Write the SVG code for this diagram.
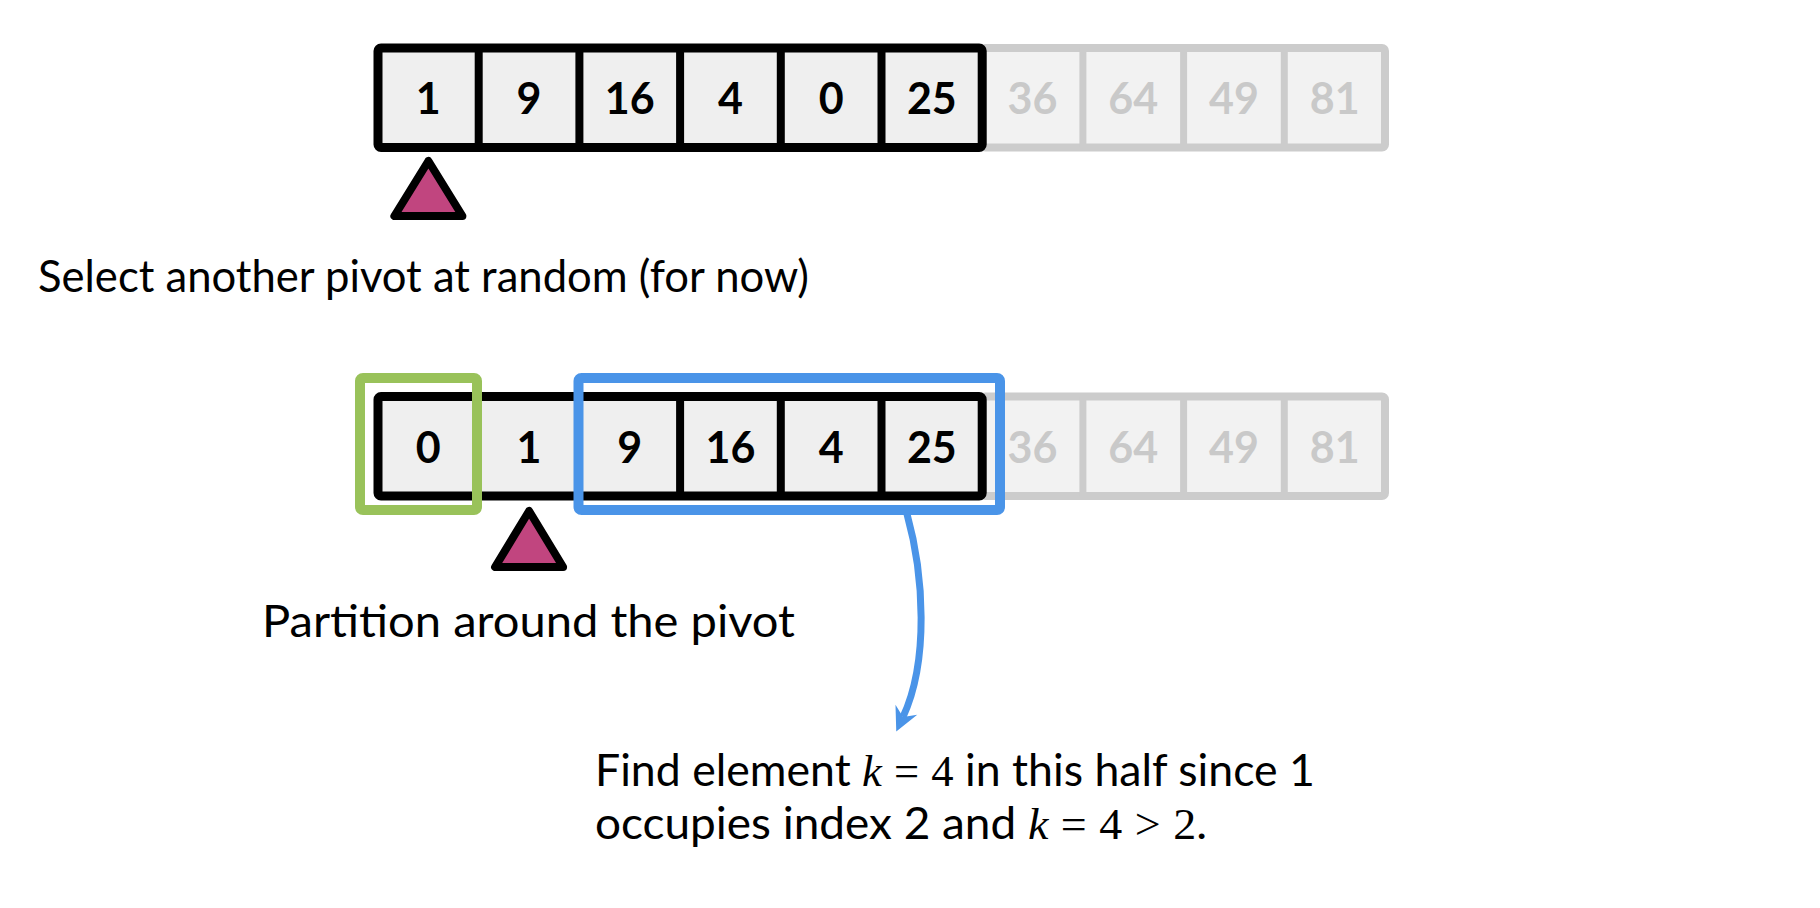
<svg xmlns="http://www.w3.org/2000/svg" width="1820" height="908" viewBox="0 0 1820 908">
  <style>
    .cell { fill: #efefef; }
    .gcell { fill: #f2f2f2; }
    .num { font-family: Lato, "Open Sans", sans-serif; font-weight: bold; font-size: 43px; fill: #000; text-anchor: middle; }
    .gnum { font-family: Lato, "Open Sans", sans-serif; font-weight: bold; font-size: 43px; fill: #c9c9c9; text-anchor: middle; }
    .frame { fill: none; stroke: #000; stroke-width: 9; stroke-linejoin: round; }
    .div { stroke: #000; stroke-width: 8; }
    .gframe { fill: none; stroke: #cccccc; stroke-width: 8; stroke-linejoin: round; }
    .gdiv { stroke: #cccccc; stroke-width: 7; }
    .pivot { fill: #c1457f; stroke: #000; stroke-width: 8; stroke-linejoin: round; }
    .label { font-family: Lato, "Open Sans", sans-serif; font-size: 44px; fill: #000; }
    .math { font-family: "Liberation Serif", "DejaVu Serif", serif; font-size: 44px; }
    .mi { font-family: "Liberation Serif", "DejaVu Serif", serif; font-style: italic; font-size: 44px; }
    .green { fill: none; stroke: #99c25a; stroke-width: 10; stroke-linejoin: round; }
    .blue { fill: none; stroke: #4a94e8; stroke-width: 10; stroke-linejoin: round; }
    .conn { fill: none; stroke: #4a94e8; stroke-width: 7; }
  </style>
  <defs>
    <marker id="arrowhead" markerUnits="userSpaceOnUse" viewBox="-26 -14 30 28" refX="-16" refY="0" markerWidth="30" markerHeight="28" orient="auto">
      <path d="M0,0 L-24,-12 L-16,0 L-24,12 Z" fill="#4a94e8"/>
    </marker>
  </defs>
  <rect width="1820" height="908" fill="#ffffff"/>

  <!-- Top array -->
  <g id="top-array">
    <g id="top-grey">
      <rect class="gcell" x="982.2" y="48" width="402.8" height="99.5"/>
      <rect class="gframe" x="982.2" y="48" width="402.8" height="99.5" rx="3"/>
      <line class="gdiv" x1="1082.9" y1="48" x2="1082.9" y2="147.5"/>
      <line class="gdiv" x1="1183.6" y1="48" x2="1183.6" y2="147.5"/>
      <line class="gdiv" x1="1284.3" y1="48" x2="1284.3" y2="147.5"/>
      <g id="top-cell-36"><text class="gnum" x="1032.55" y="114">36</text></g>
      <g id="top-cell-64"><text class="gnum" x="1133.25" y="114">64</text></g>
      <g id="top-cell-49"><text class="gnum" x="1233.95" y="114">49</text></g>
      <g id="top-cell-81"><text class="gnum" x="1334.65" y="114">81</text></g>
    </g>
    <rect class="cell" x="378" y="48" width="604.2" height="99.5"/>
    <g id="top-cell-1"><text class="num" x="428.35" y="114">1</text></g>
    <g id="top-cell-9"><text class="num" x="529.05" y="114">9</text></g>
    <g id="top-cell-16"><text class="num" x="629.75" y="114">16</text></g>
    <g id="top-cell-4"><text class="num" x="730.45" y="114">4</text></g>
    <g id="top-cell-0"><text class="num" x="831.15" y="114">0</text></g>
    <g id="top-cell-25"><text class="num" x="931.85" y="114">25</text></g>
    <line class="div" x1="478.7" y1="48" x2="478.7" y2="147.5"/>
    <line class="div" x1="579.4" y1="48" x2="579.4" y2="147.5"/>
    <line class="div" x1="680.1" y1="48" x2="680.1" y2="147.5"/>
    <line class="div" x1="780.8" y1="48" x2="780.8" y2="147.5"/>
    <line class="div" x1="881.5" y1="48" x2="881.5" y2="147.5"/>
    <rect class="frame" x="378" y="48" width="604.2" height="99.5" rx="3"/>
  </g>

  <g id="top-pivot">
    <polygon class="pivot" points="428.4,161 394.4,216 462.4,216"/>
  </g>

  <g id="label-select">
    <text class="label" x="38" y="292" textLength="771" lengthAdjust="spacingAndGlyphs">Select another pivot at random (for now)</text>
  </g>

  <!-- Bottom array -->
  <g id="bottom-array">
    <g id="bottom-grey">
      <rect class="gcell" x="982.2" y="396.5" width="402.8" height="99.5"/>
      <rect class="gframe" x="982.2" y="396.5" width="402.8" height="99.5" rx="3"/>
      <line class="gdiv" x1="1082.9" y1="396.5" x2="1082.9" y2="496"/>
      <line class="gdiv" x1="1183.6" y1="396.5" x2="1183.6" y2="496"/>
      <line class="gdiv" x1="1284.3" y1="396.5" x2="1284.3" y2="496"/>
      <g id="bottom-cell-36"><text class="gnum" x="1032.55" y="462.5">36</text></g>
      <g id="bottom-cell-64"><text class="gnum" x="1133.25" y="462.5">64</text></g>
      <g id="bottom-cell-49"><text class="gnum" x="1233.95" y="462.5">49</text></g>
      <g id="bottom-cell-81"><text class="gnum" x="1334.65" y="462.5">81</text></g>
    </g>
    <rect class="cell" x="378" y="396.5" width="604.2" height="99.5"/>
    <g id="bottom-cell-0"><text class="num" x="428.35" y="462.5">0</text></g>
    <g id="bottom-cell-1"><text class="num" x="529.05" y="462.5">1</text></g>
    <g id="bottom-cell-9"><text class="num" x="629.75" y="462.5">9</text></g>
    <g id="bottom-cell-16"><text class="num" x="730.45" y="462.5">16</text></g>
    <g id="bottom-cell-4"><text class="num" x="831.15" y="462.5">4</text></g>
    <g id="bottom-cell-25"><text class="num" x="931.85" y="462.5">25</text></g>
    <line class="div" x1="680.1" y1="396.5" x2="680.1" y2="496"/>
    <line class="div" x1="780.8" y1="396.5" x2="780.8" y2="496"/>
    <line class="div" x1="881.5" y1="396.5" x2="881.5" y2="496"/>
    <rect class="frame" x="378" y="396.5" width="604.2" height="99.5" rx="3"/>
  </g>

  <g id="green-box">
    <rect class="green" x="360" y="378" width="117" height="132" rx="3"/>
  </g>
  <g id="blue-box">
    <rect class="blue" x="578.5" y="378" width="421.5" height="132" rx="3"/>
  </g>

  <g id="bottom-pivot">
    <polygon class="pivot" points="529.1,511 495.1,567 563.1,567"/>
  </g>

  <g id="label-partition">
    <text class="label" x="262" y="637" textLength="533" lengthAdjust="spacingAndGlyphs">Partition around the pivot</text>
  </g>

  <g id="connectors">
    <path class="conn" d="M907,514 C924,575 929,661 903,717" marker-end="url(#arrowhead)"/>
  </g>

  <g id="label-find">
    <text class="label" x="595" y="786" font-size="40" textLength="720" lengthAdjust="spacingAndGlyphs">Find element <tspan class="mi">k</tspan><tspan class="math" dx="12">=</tspan><tspan class="math" dx="12">4</tspan> in this half since 1</text>
    <text class="label" x="595" y="839" font-size="40" textLength="612" lengthAdjust="spacingAndGlyphs">occupies index 2 and <tspan class="mi">k</tspan><tspan class="math" dx="12">=</tspan><tspan class="math" dx="12">4</tspan><tspan class="math" dx="12">&gt;</tspan><tspan class="math" dx="12">2</tspan>.</text>
  </g>
</svg>
